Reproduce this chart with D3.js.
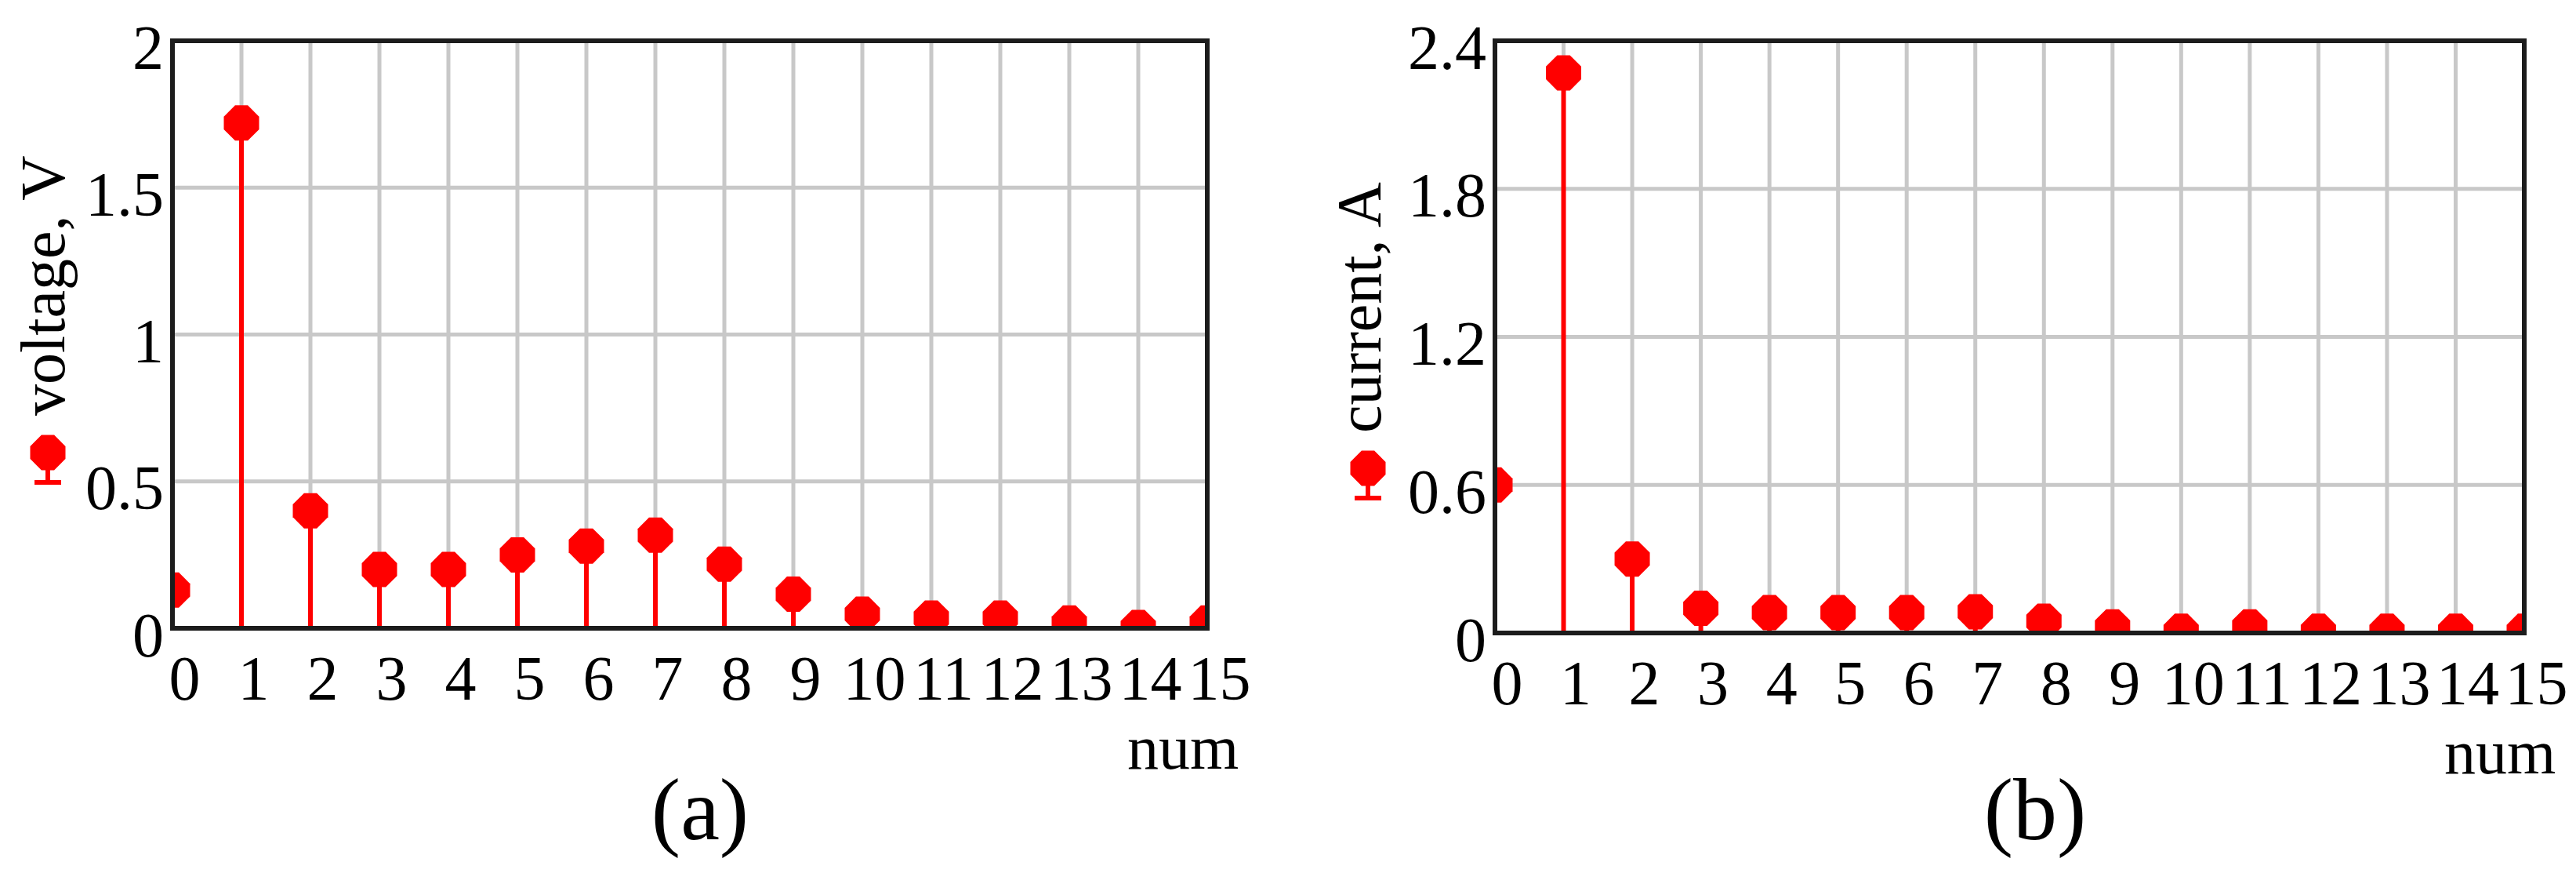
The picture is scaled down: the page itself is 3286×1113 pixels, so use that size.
<!DOCTYPE html>
<html>
<head>
<meta charset="utf-8">
<script src="https://d3js.org/d3.v7.min.js"></script>
<style>
body { margin: 0; background: #fff; }
svg text { font-family: "Liberation Serif", "Times New Roman", serif; fill: #000; }
</style>
</head>
<body>
<svg id="fig" width="3286" height="1113"></svg>
<script>

// harmonic number on the x axis
var nums = [0, 1, 2, 3, 4, 5, 6, 7, 8, 9, 10, 11, 12, 13, 14, 15];

// (a) voltage spectrum, V
var voltage = [0.13, 1.72, 0.40, 0.20, 0.20, 0.25, 0.28, 0.317, 0.218, 0.116, 0.048, 0.035, 0.035, 0.018, 0.003, 0.018];
var voltageTicks = [0, 0.5, 1, 1.5, 2];

// (b) current spectrum, A
var current = [0.60, 2.27, 0.30, 0.10, 0.083, 0.083, 0.083, 0.086, 0.048, 0.025, 0.007, 0.025, 0.007, 0.007, 0.007, 0.007];
var currentTicks = [0, 0.6, 1.2, 1.8, 2.4];

var red = "#ff0000", grid = "#c8c8c8", frame = "#1c1c1c";

var panels = [
  { id: "a", values: voltage, ticks: voltageTicks, label: "voltage, V", tag: "(a)",
    left: 220, right: 1540, top: 52, bottom: 801, labelX: 82, labelY: 530, legX: 61, legY: 577, tagX: 893 },
  { id: "b", values: current, ticks: currentTicks, label: "current, A", tag: "(b)",
    left: 1907, right: 3220, top: 52, bottom: 807, labelX: 1761, labelY: 552, legX: 1745, legY: 597, tagX: 2596 }
];

// marker: filled octagon like the Mathcad dot
var octagon = {
  draw: function(ctx, size) {
    var r = Math.sqrt(size) / 2, c = r * 0.36;
    ctx.moveTo(-c, -r); ctx.lineTo(c, -r); ctx.lineTo(r, -c); ctx.lineTo(r, c);
    ctx.lineTo(c, r); ctx.lineTo(-c, r); ctx.lineTo(-r, c); ctx.lineTo(-r, -c);
    ctx.closePath();
  }
};
var marker = d3.symbol().type(octagon).size(45 * 45);

var svg = d3.select("#fig");

panels.forEach(function(p) {
  var x = d3.scaleLinear().domain([0, 15]).range([p.left, p.right]);
  var y = d3.scaleLinear().domain([0, d3.max(p.ticks)]).range([p.bottom, p.top]);
  var g = svg.append("g");

  // grid lines
  g.selectAll(".vgrid").data(nums.slice(1, -1)).enter().append("line")
    .attr("x1", function(d) { return x(d); }).attr("x2", function(d) { return x(d); })
    .attr("y1", y.range()[0]).attr("y2", y.range()[1])
    .attr("stroke", grid).attr("stroke-width", 5);
  g.selectAll(".hgrid").data(p.ticks.slice(1, -1)).enter().append("line")
    .attr("x1", x.range()[0]).attr("x2", x.range()[1])
    .attr("y1", function(d) { return y(d); }).attr("y2", function(d) { return y(d); })
    .attr("stroke", grid).attr("stroke-width", 5);

  // clip stems and dots to the plot box
  svg.append("clipPath").attr("id", "clip-" + p.id).append("rect")
    .attr("x", x(0)).attr("y", y.range()[1])
    .attr("width", x(15) - x(0)).attr("height", y.range()[0] - y.range()[1]);
  var plot = g.append("g").attr("clip-path", "url(#clip-" + p.id + ")");

  plot.selectAll(".stem").data(p.values).enter().append("line")
    .attr("x1", function(d, i) { return x(nums[i]); })
    .attr("x2", function(d, i) { return x(nums[i]); })
    .attr("y1", y(0))
    .attr("y2", function(d) { return y(d); })
    .attr("stroke", red).attr("stroke-width", 6);
  plot.selectAll(".dot").data(p.values).enter().append("path")
    .attr("d", marker)
    .attr("transform", function(d, i) { return "translate(" + x(nums[i]) + "," + y(d) + ")"; })
    .attr("fill", red);

  // frame
  g.append("rect")
    .attr("x", x(0)).attr("y", y.range()[1])
    .attr("width", x(15) - x(0)).attr("height", y.range()[0] - y.range()[1])
    .attr("fill", "none").attr("stroke", frame).attr("stroke-width", 6);

  // y tick labels
  var ya = g.append("g").attr("transform", "translate(" + x(0) + ",0)")
    .call(d3.axisLeft(y).tickValues(p.ticks).tickFormat(d3.format("")).tickSize(0).tickPadding(11));
  ya.select(".domain").remove();
  ya.attr("font-size", 80).attr("font-family", null);
  ya.selectAll("text").attr("dy", "0.44em");

  // x tick labels
  var xa = g.append("g").attr("transform", "translate(0," + y(0) + ")")
    .call(d3.axisBottom(x).tickValues(nums).tickFormat(d3.format("d")).tickSize(0).tickPadding(34));
  xa.select(".domain").remove();
  xa.attr("font-size", 80).attr("font-family", null);
  xa.selectAll("text").attr("dx", 15);

  g.append("text")
    .attr("x", x(15) - 31).attr("y", y(0) + 179)
    .attr("text-anchor", "middle").attr("font-size", 80)
    .text("num");

  // rotated y label with legend symbol below it
  g.append("text")
    .attr("transform", "translate(" + p.labelX + "," + p.labelY + ") rotate(-90)")
    .attr("font-size", 80)
    .text(p.label);
  var leg = g.append("g").attr("transform", "translate(" + p.legX + "," + p.legY + ")");
  leg.append("line").attr("x1", 0).attr("x2", 0).attr("y1", 0).attr("y2", 38)
    .attr("stroke", red).attr("stroke-width", 6);
  leg.append("line").attr("x1", -17).attr("x2", 17).attr("y1", 38).attr("y2", 38)
    .attr("stroke", red).attr("stroke-width", 6);
  leg.append("path").attr("d", marker).attr("fill", red);

  // panel tag
  g.append("text")
    .attr("x", p.tagX).attr("y", 1070)
    .attr("text-anchor", "middle").attr("font-size", 112)
    .text(p.tag);
});

</script>
</body>
</html>
